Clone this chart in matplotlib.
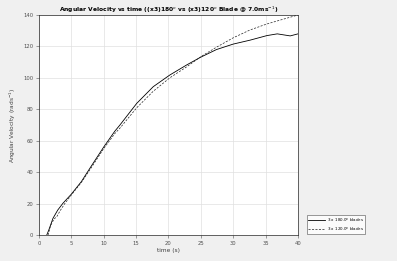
import numpy as np
import matplotlib.pyplot as plt

# time (s) and angular velocity (rad/s)
t_180 = [1.2, 1.5, 2.16, 2.9, 3.7, 5.0, 6.55, 8.1, 10.0, 11.7, 12.5, 15.1, 17.65,
         20.2, 22.8, 24.9, 27.4, 30.0, 32.6, 35.2, 36.8, 38.8, 40.0]
w_180 = [0, 3, 10.6, 15.9, 20.2, 26, 34, 44, 56, 66, 70, 83.8, 94.4,
         101.8, 108.2, 113.0, 118, 121.5, 124, 126.9, 128, 126.7, 128]

t_120 = [1.4, 1.8, 2.3, 2.8, 3.2, 3.9, 5.0, 6.55, 8.1, 10.0, 11.7, 12.5, 15.1, 17.65,
         20.2, 22.8, 25.0, 27.4, 30.0, 32.6, 35.2, 37.7, 40.0]
w_120 = [0, 6, 10, 12, 15, 19.5, 25.5, 33.5, 43, 55, 64.5, 68, 81, 91.5,
         100, 107, 113.5, 119.5, 125.5, 130.5, 134.3, 137.3, 140]

labels = ['3 x 180.0$^o$ blades', '3 x 120.0$^o$ blades']

fig = plt.figure(figsize=(3.97, 2.61), dpi=100, facecolor='#f0f0f0')
ax = fig.add_axes([0.0982, 0.0996, 0.6524, 0.8429])
ax.plot(t_180, w_180, color='black', lw=0.6, label=labels[0])
ax.plot(t_120, w_120, color='#222222', lw=0.5, ls=(0, (3, 2)), label=labels[1])

ax.set_xlim(0, 40)
ax.set_ylim(0, 140)
ax.set_xticks(np.arange(0, 41, 5))
ax.set_yticks(np.arange(0, 141, 20))
ax.grid(True, color='#e0e0e0', lw=0.5)
ax.tick_params(labelsize=3.8, colors='#505050', length=2, width=0.4, pad=2)
for s in ax.spines.values():
    s.set_linewidth(0.5)
    s.set_color('#262626')

ax.set_title('Angular Velocity vs time ((x3)180$^o$ vs (x3)120$^o$ Blade @ 7.0ms$^{-1}$)',
             fontsize=4.3, fontweight='bold', pad=2.5)
ax.set_xlabel('time (s)', fontsize=4.2, color='#404040', labelpad=2)
ax.set_ylabel('Angular Velocity (rads$^{-1}$)', fontsize=4.2, color='#404040', labelpad=4)

leg = ax.legend(loc='lower left', bbox_to_anchor=(1.034, 0.005), fontsize=2.9,
                frameon=True, fancybox=False, handlelength=4.2, borderpad=0.3,
                labelspacing=0.25, handletextpad=0.4, borderaxespad=0.0)
leg.get_frame().set_linewidth(0.4)
leg.get_frame().set_edgecolor('#262626')

fig.savefig('out.png', dpi=100, facecolor=fig.get_facecolor())
